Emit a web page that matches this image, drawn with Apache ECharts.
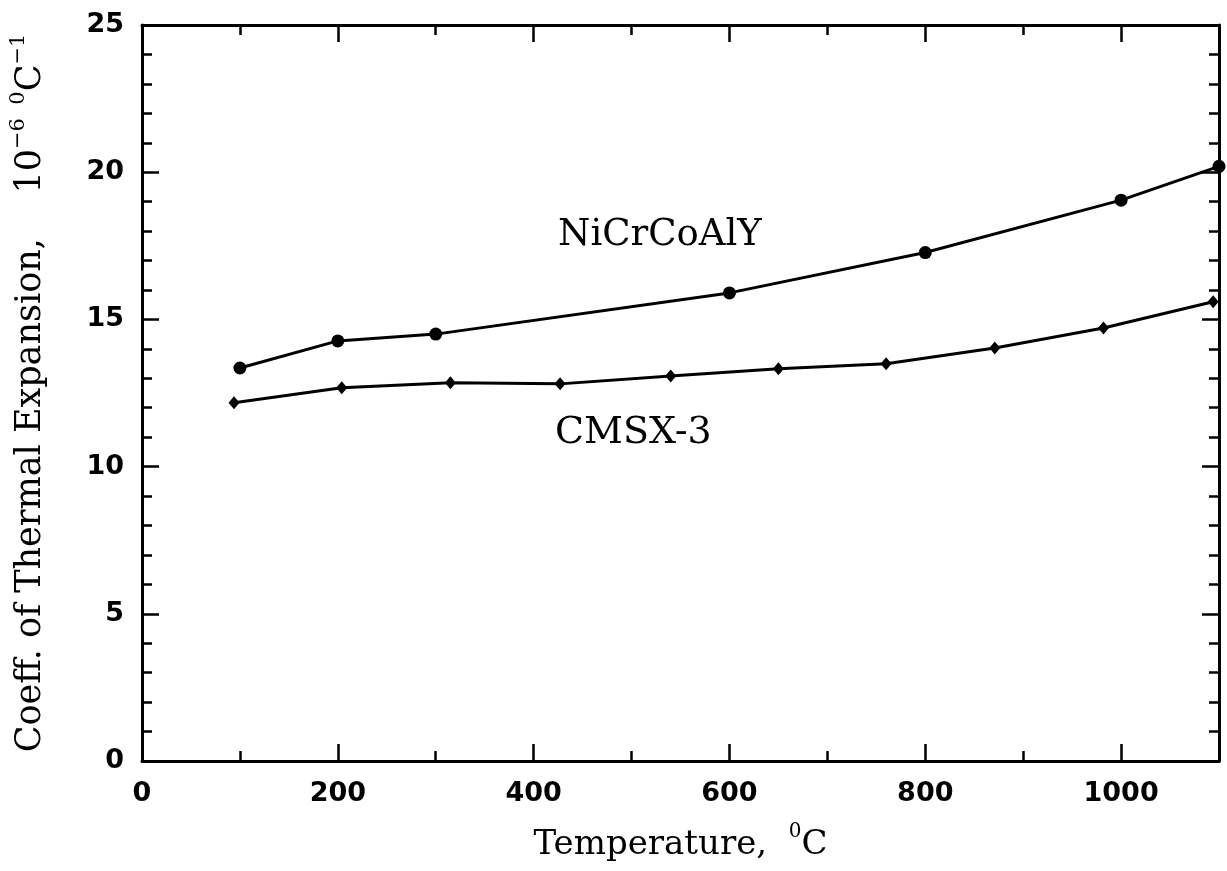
<!DOCTYPE html>
<html>
<head>
<meta charset="utf-8">
<script src="https://cdn.jsdelivr.net/npm/echarts@6/dist/echarts.min.js"></script>
<style>
  html, body { margin: 0; padding: 0; background: #fff; }
  #chart { width: 1227px; height: 871px; }
</style>
</head>
<body>
<div id="chart"></div>
<script>
// ---- data ----
const nicrTemps = [100, 200, 300, 600, 800, 1000, 1100];
const nicrCte   = [13.35, 14.27, 14.5, 15.9, 17.27, 19.05, 20.2];

const cmsxTemps = [94, 204, 315, 427, 540, 650, 760, 871, 982, 1094];
const cmsxCte   = [12.17, 12.68, 12.85, 12.81, 13.08, 13.32, 13.49, 14.03, 14.71, 15.6];

const xTicks = [0, 200, 400, 600, 800, 1000];
const yTicks = [0, 5, 10, 15, 20, 25];

const seriesNames = ['NiCrCoAlY', 'CMSX-3'];

const chart = echarts.init(document.getElementById('chart'));

const black = '#000';
const serif = '"DejaVu Serif", "Liberation Serif", serif';
const sans = '"DejaVu Sans", "Liberation Sans", sans-serif';

function pairs(xs, ys) {
    return xs.map((x, i) => [x, ys[i]]);
}

// tick-only axes (no labels), used for the frame and the minor ticks
function tickAxis(position, max, interval, len, showLine) {
    return {
        type: 'value',
        position: position,
        min: 0,
        max: max,
        interval: interval,
        axisLine: { show: showLine, onZero: false, lineStyle: { color: black, width: 3 } },
        axisTick: { show: true, inside: true, length: len, lineStyle: { color: black, width: 2.5 } },
        axisLabel: { show: false },
        splitLine: { show: false }
    };
}

chart.setOption({
    backgroundColor: '#fff',
    animation: false,
    grid: { left: 140, right: 8, top: 25, bottom: 110, containLabel: false },

    xAxis: [
        {
            type: 'value',
            position: 'bottom',
            min: 0,
            max: 1100,
            interval: 200,
            name: '{a|Temperature,  }{s|0}{a|C}',
            nameLocation: 'middle',
            nameGap: 61,
            nameTextStyle: {
                rich: {
                    a: { fontFamily: serif, fontSize: 34, color: black, lineHeight: 40, verticalAlign: 'bottom' },
                    s: { fontFamily: serif, fontSize: 20, color: black, lineHeight: 40, verticalAlign: 'top' }
                }
            },
            axisLine: { show: true, onZero: false, lineStyle: { color: black, width: 3 } },
            axisTick: { show: true, inside: true, length: 17, lineStyle: { color: black, width: 2.5 } },
            axisLabel: {
                showMaxLabel: false,
                margin: 19,
                fontFamily: sans,
                fontWeight: 'bold',
                fontSize: 27,
                color: black,
                formatter: v => xTicks.includes(v) ? String(v) : ''
            },
            splitLine: { show: false }
        },
        tickAxis('bottom', 1100, 100, 10, false),
        tickAxis('top', 1100, 200, 17, true),
        tickAxis('top', 1100, 100, 10, false)
    ],

    yAxis: [
        {
            type: 'value',
            position: 'left',
            min: 0,
            max: 25,
            interval: 5,
            name: '{a|Coeff. of Thermal Expansion,    10}{s|−6}{s|  }{s|0}{a|C}{s|−1}',
            nameLocation: 'middle',
            nameRotate: 90,
            nameGap: 94,
            nameTextStyle: {
                rich: {
                    a: { fontFamily: serif, fontSize: 35, color: black, lineHeight: 40, verticalAlign: 'bottom' },
                    s: { fontFamily: serif, fontSize: 21, color: black, lineHeight: 40, verticalAlign: 'top' }
                }
            },
            axisLine: { show: true, onZero: false, lineStyle: { color: black, width: 3 } },
            axisTick: { show: true, inside: true, length: 17, lineStyle: { color: black, width: 2.5 } },
            axisLabel: {
                margin: 18,
                fontFamily: sans,
                fontWeight: 'bold',
                fontSize: 27,
                color: black,
                formatter: v => yTicks.includes(v) ? String(v) : ''
            },
            splitLine: { show: false }
        },
        tickAxis('left', 25, 1, 10, false),
        tickAxis('right', 25, 5, 17, true),
        tickAxis('right', 25, 1, 10, false)
    ],

    series: [
        {
            name: seriesNames[0],
            type: 'line',
            xAxisIndex: 0,
            yAxisIndex: 0,
            data: pairs(nicrTemps, nicrCte),
            symbol: 'circle',
            symbolSize: 13,
            itemStyle: { color: black },
            lineStyle: { color: black, width: 3 },
            clip: false
        },
        {
            name: seriesNames[1],
            type: 'line',
            xAxisIndex: 0,
            yAxisIndex: 0,
            data: pairs(cmsxTemps, cmsxCte),
            symbol: 'diamond',
            symbolSize: [11, 13],
            itemStyle: { color: black },
            lineStyle: { color: black, width: 3 },
            clip: false
        }
    ],

    graphic: [
        {
            type: 'text',
            left: 558,
            top: 217,
            style: { text: seriesNames[0], font: '37px ' + serif, fill: black }
        },
        {
            type: 'text',
            left: 555,
            top: 414,
            style: { text: seriesNames[1], font: '38px ' + serif, fill: black }
        }
    ]
});

window.addEventListener('resize', function() {
    chart.resize();
});
</script>
</body>
</html>
